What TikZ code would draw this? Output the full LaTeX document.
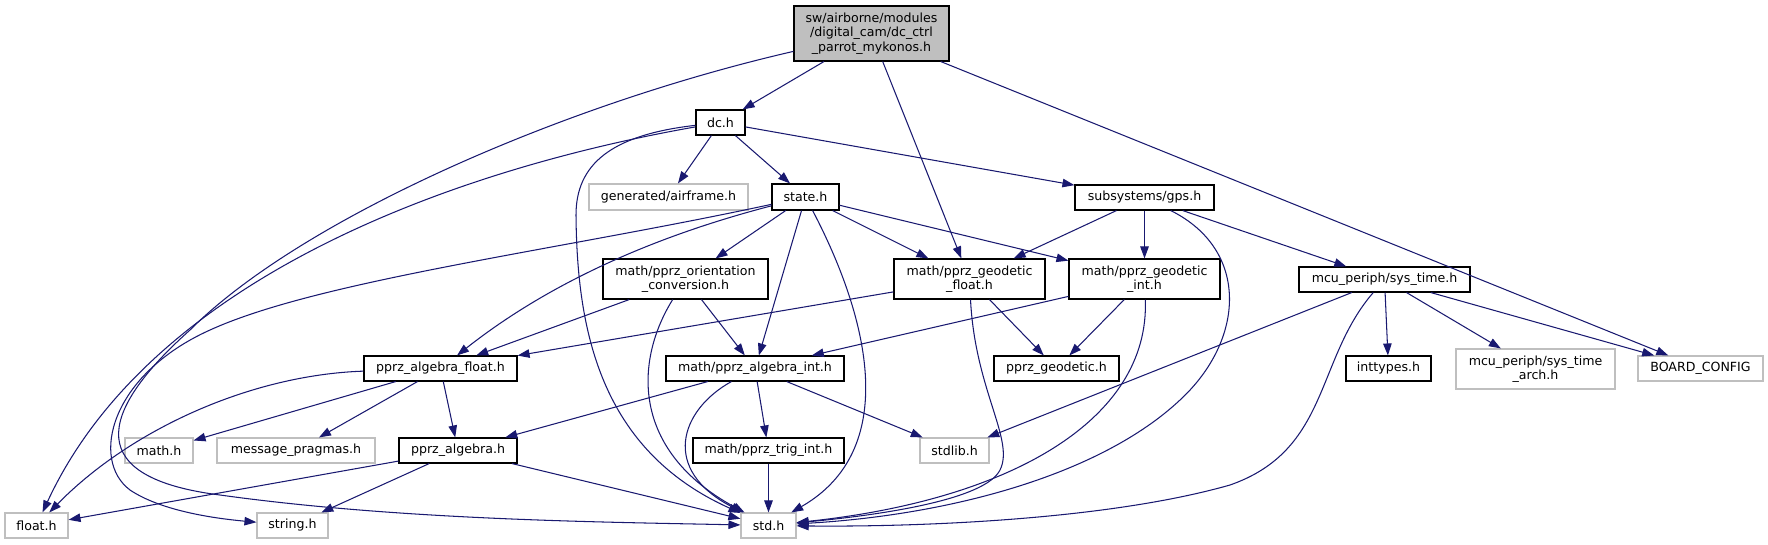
\documentclass[tikz,border=0pt]{standalone}
\usepackage{fontspec}
\setmainfont{DejaVu Sans}
\usetikzlibrary{arrows.meta}
\definecolor{edgecol}{HTML}{191970}
\definecolor{graybd}{HTML}{BFBFBF}
\tikzset{
  filebox/.style={draw=black, line width=1.1pt, fill=white, inner sep=0pt, align=center,
    font=\fontsize{12.6}{14.5}\selectfont},
  extbox/.style={filebox, draw=graybd},
  edge/.style={draw=edgecol, line width=1.05pt, -{Triangle[length=12pt,width=8.5pt]}},
}
\begin{document}
\begin{tikzpicture}[x=1pt,y=-1pt]
\useasboundingbox (0,0) rectangle (1768,544);
% nodes
\node[filebox, fill=graybd, minimum width=155pt, minimum height=55pt] (root) at (871.5,33.5)
  {sw/airborne/modules\\/digital\_cam/dc\_ctrl\hspace*{13pt}\\\_parrot\_mykonos.h};
\node[filebox, minimum width=49pt, minimum height=25pt] (dc) at (720.5,122.5) {dc.h};
\node[extbox, minimum width=159pt, minimum height=26pt] (airframe) at (668.5,197) {generated/airframe.h};
\node[filebox, minimum width=67pt, minimum height=26pt] (state) at (805.5,197) {state.h};
\node[filebox, minimum width=139pt, minimum height=25pt] (gps) at (1144.5,197.5) {subsystems/gps.h};
\node[filebox, minimum width=165pt, minimum height=40pt] (orient) at (685.5,279) {math/pprz\_orientation\\\_conversion.h};
\node[filebox, minimum width=151pt, minimum height=40pt] (geofloat) at (969.5,279) {math/pprz\_geodetic\\\_float.h};
\node[filebox, minimum width=151pt, minimum height=40pt] (geoint) at (1144.5,279) {math/pprz\_geodetic\\\_int.h};
\node[filebox, minimum width=171pt, minimum height=25pt] (systime) at (1384.5,279.5) {mcu\_periph/sys\_time.h};
\node[filebox, minimum width=153pt, minimum height=25pt] (algfloat) at (440.5,368.5) {pprz\_algebra\_float.h};
\node[filebox, minimum width=178pt, minimum height=25pt] (algint) at (755,368.5) {math/pprz\_algebra\_int.h};
\node[filebox, minimum width=125pt, minimum height=25pt] (pgeod) at (1056.5,368.5) {pprz\_geodetic.h};
\node[filebox, minimum width=85pt, minimum height=25pt] (inttypes) at (1388.5,368.5) {inttypes.h};
\node[extbox, minimum width=159pt, minimum height=40pt] (arch) at (1535.5,369) {mcu\_periph/sys\_time\\\_arch.h};
\node[extbox, minimum width=125pt, minimum height=25pt] (board) at (1700.5,368.5) {BOARD\_CONFIG};
\node[extbox, minimum width=68pt, minimum height=25pt] (mathh) at (159,450.5) {math.h};
\node[extbox, minimum width=158pt, minimum height=25pt] (msgp) at (296,450.5) {message\_pragmas.h};
\node[filebox, minimum width=118pt, minimum height=25pt] (palg) at (458,450.5) {pprz\_algebra.h};
\node[filebox, minimum width=151pt, minimum height=25pt] (trig) at (768.5,450.5) {math/pprz\_trig\_int.h};
\node[extbox, minimum width=69pt, minimum height=25pt] (stdlib) at (954.5,450.5) {stdlib.h};
\node[extbox, minimum width=63pt, minimum height=25pt] (float) at (36.5,525.5) {float.h};
\node[extbox, minimum width=71pt, minimum height=25pt] (string) at (292.5,525.5) {string.h};
\node[extbox, minimum width=55pt, minimum height=25pt] (std) at (768.5,525.5) {std.h};
% straight edges
\draw[edge] (root) -- (dc);
\draw[edge] (root) -- (geofloat);
\draw[edge] (root) -- (board);
\draw[edge] (dc) -- (airframe);
\draw[edge] (dc) -- (state);
\draw[edge] (dc) -- (gps);
\draw[edge] (state) -- (orient);
\draw[edge] (state) -- (algint);
\draw[edge] (state) -- (geofloat);
\draw[edge] (state) -- (geoint);
\draw[edge] (gps) -- (geofloat);
\draw[edge] (gps) -- (geoint);
\draw[edge] (gps) -- (systime);
\draw[edge] (orient) -- (algfloat);
\draw[edge] (orient) -- (algint);
\draw[edge] (geofloat) -- (algfloat);
\draw[edge] (geofloat) -- (pgeod);
\draw[edge] (geoint) -- (algint);
\draw[edge] (geoint) -- (pgeod);
\draw[edge] (systime) -- (inttypes);
\draw[edge] (systime) -- (arch);
\draw[edge] (systime) -- (board);
\draw[edge] (systime) -- (stdlib);
\draw[edge] (algfloat) -- (mathh);
\draw[edge] (algfloat) -- (msgp);
\draw[edge] (algfloat) -- (palg);
\draw[edge] (algint) -- (palg);
\draw[edge] (algint) -- (trig);
\draw[edge] (algint) -- (stdlib);
\draw[edge] (trig) -- (std);
\draw[edge] (palg) -- (float);
\draw[edge] (palg) -- (string);
\draw[edge] (palg) -- (std);
% curved edges
\draw[edge] (root) .. controls (560,105) and (300,220) .. (190,330)
  .. controls (95,415) and (85,478) .. (220,495)
  .. controls (400,520) and (600,522) .. (std);
\draw[edge] (dc) .. controls (450,170) and (150,280) .. (float);
\draw[edge] (dc) .. controls (610,135) and (576,165) .. (576,215)
  .. controls (577,330) and (600,450) .. (std);
\draw[edge] (state) .. controls (560,250) and (320,280) .. (210,330)
  .. controls (110,375) and (90,460) .. (130,490)
  .. controls (160,510) and (210,518) .. (string);
\draw[edge] (state) .. controls (640,240) and (540,290) .. (algfloat);
\draw[edge] (state) .. controls (870,320) and (900,450) .. (std);
\draw[edge] (orient) .. controls (635,360) and (630,450) .. (std);
\draw[edge] (algint) .. controls (680,410) and (660,470) .. (std);
\draw[edge] (geofloat) .. controls (975,390) and (1015,440) .. (1000,470)
  .. controls (985,500) and (880,515) .. (std);
\draw[edge] (geoint) .. controls (1150,420) and (1010,500) .. (std);
\draw[edge] (gps) .. controls (1250,250) and (1245,340) .. (1180,400)
  .. controls (1100,475) and (950,515) .. (std);
\draw[edge] (systime) .. controls (1315,360) and (1330,450) .. (1230,485)
  .. controls (1100,522) and (900,527) .. (std);
\draw[edge] (algfloat) .. controls (250,375) and (130,430) .. (float);
\end{tikzpicture}
\end{document}
